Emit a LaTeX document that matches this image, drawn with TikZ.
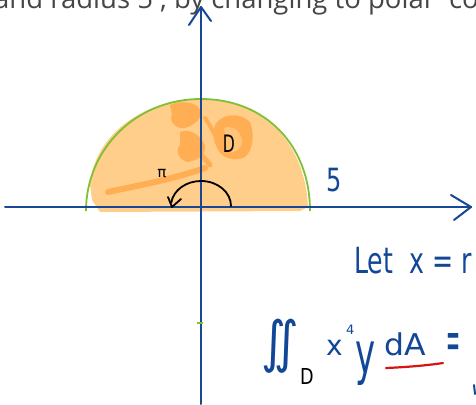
\documentclass[tikz,border=0pt]{standalone}
\usepackage{fontspec}
\setmainfont{Open Sans}
\newfontfamily\hand{DejaVu Sans}
\usetikzlibrary{arrows.meta}
\definecolor{axisblue}{RGB}{22,72,150}
\definecolor{inkblue}{RGB}{18,70,150}
\definecolor{lightor}{RGB}{255,206,138}
\definecolor{darkor}{RGB}{255,174,84}
\definecolor{arcgreen}{RGB}{128,192,52}
\definecolor{topgray}{RGB}{70,70,70}
\definecolor{inkred}{RGB}{215,20,20}
\begin{document}
\begin{tikzpicture}[x=1pt,y=1pt,
  axisline/.style={draw=axisblue,line width=2pt,line cap=round,line join=round},
  scribble/.style={draw=darkor,line cap=round,line join=round},
  handtext/.style={inner sep=0pt,font=\hand},
  blackink/.style={draw=black,line width=2pt,line cap=round,line join=round}]
\useasboundingbox (0,0) rectangle (476,-404);
\clip (0,0) rectangle (476,-404);
% top text
\node[anchor=base west,inner sep=0pt,text=topgray,font=\fontsize{27.5}{30}\selectfont] (toptext) at (-6,-9) {and radius 5 , by changing to polar\hspace{0.25em} co};
% light orange fill
\fill[lightor] (100,-212) -- (92,-200) -- (90,-185)
  .. controls (95,-130) and (150,-98) .. (201,-100)
  .. controls (260,-98) and (305,-140) .. (308,-207)
  -- (300,-211) -- cycle;
% darker scribbles
\fill[darkor] (170,-105) .. controls (180,-100) and (198,-102) .. (200,-110)
  .. controls (203,-118) and (195,-125) .. (185,-128)
  .. controls (178,-130) and (168,-122) .. (172,-115) -- cycle;
\fill[darkor] (180,-132) .. controls (190,-128) and (200,-135) .. (205,-145)
  .. controls (206,-155) and (198,-160) .. (188,-162)
  .. controls (178,-160) and (175,-150) .. (180,-145) -- cycle;
\fill[darkor] (215,-125) .. controls (222,-113) and (240,-112) .. (250,-122)
  .. controls (255,-135) and (253,-150) .. (245,-157)
  .. controls (235,-162) and (222,-158) .. (218,-150)
  .. controls (213,-140) and (212,-132) .. (215,-125) -- cycle;
\fill[lightor!70!darkor] (224,-128) .. controls (232,-125) and (240,-130) .. (242,-140)
  .. controls (242,-150) and (234,-154) .. (227,-152) -- cycle;
\draw[scribble,line width=6pt] (108,-192) .. controls (140,-185) and (170,-180) .. (205,-168);
\draw[scribble,line width=5pt] (190,-140) .. controls (195,-150) and (205,-158) .. (210,-165);
\draw[scribble,line width=4pt] (205,-118) .. controls (210,-125) and (212,-130) .. (215,-135);
% green semicircle
\draw[arcgreen,line width=1.8pt] (86,-211) .. controls (86,-150) and (135,-99) .. (201,-99)
  .. controls (265,-99) and (310,-145) .. (310,-211);
% axes
\coordinate (xl) at (5,-207);
\coordinate (xr) at (471,-207);
\coordinate (yb) at (201,-404);
\coordinate (yt) at (201,-7);
\draw[axisline] (xl) -- (xr);
\draw[axisline] (yb) -- (yt);
\draw[axisline] (451,-195) -- (xr) -- (454,-220);
\draw[axisline] (189,-25) -- (yt) -- (211,-21);
% green tick
\fill[arcgreen] (197,-321.5) rectangle (203,-324);
% angle arrow
\coordinate (arcstart) at (231,-206);
\draw[blackink,line width=1.8pt] (arcstart) arc[start angle=0,end angle=172,x radius=30,y radius=25];
\draw[blackink,line width=1.8pt] (168,-197) -- (172,-207) -- (181,-199);
% labels
\node[handtext,text=black,font=\fontsize{24}{28}\hand,xscale=0.65] (Dlab) at (229,-144) {D};
\node[handtext,text=black,font=\fontsize{15}{17}\hand] (pilab) at (162,-174) {π};
\node[handtext,text=inkblue,font=\fontsize{32}{36}\hand,xscale=0.75] (five) at (334,-180) {5};
\node[handtext,anchor=base west,text=inkblue,font=\fontsize{36}{40}\hand,xscale=0.7] (letx) at (354,-273) {Let\ \ x = r};
% integral
\node[handtext,text=inkblue,font=\fontsize{56}{60}\hand] (iint) at (280,-346) {\scalebox{0.85}[1]{∬}};
\node[handtext,text=black,font=\fontsize{22}{24}\hand] (subD) at (307,-376) {\scalebox{0.8}[1]{D}};
\node[handtext,anchor=base west,text=inkblue,font=\fontsize{28}{32}\hand] (xx) at (326,-355) {x};
\node[handtext,anchor=base west,text=inkblue,font=\fontsize{13}{15}\hand] (four) at (346,-334) {4};
\node[handtext,text=inkblue,font=\fontsize{34}{38}\hand] (yy) at (366,-364) {\scalebox{1.0}[1.7]{y}};
\node[handtext,anchor=base west,text=inkblue,font=\fontsize{30}{34}\hand] (dA) at (384,-355) {\scalebox{1.05}[1]{dA}};
\node[handtext,text=inkblue,font=\fontsize{44}{48}\hand] (eq) at (453,-347) {\scalebox{0.38}[1.3]{=}};
\coordinate (ul1) at (386,-368);
\coordinate (ul2) at (443,-363);
\draw[inkred,line width=2.2pt,line cap=round] (ul1) .. controls (410,-367) and (430,-365) .. (ul2);
\draw[axisblue,line width=2pt,line cap=round] (474,-385) -- (475,-394);
\end{tikzpicture}
\end{document}
